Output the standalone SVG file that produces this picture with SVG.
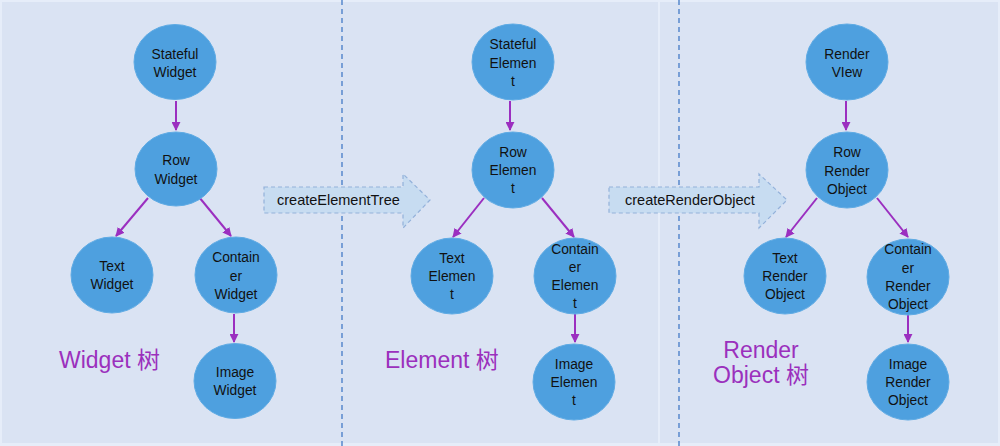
<svg xmlns="http://www.w3.org/2000/svg" width="1000" height="446" viewBox="0 0 1000 446">
<style>
.node ellipse{fill:#4ea0df;stroke:#5fabe4;stroke-width:1}
.node text{font-family:"Liberation Sans",Arial,sans-serif;font-size:13.8px;fill:#111;text-anchor:middle}
.edge{stroke:#9b2fc0;stroke-width:2;fill:none;marker-end:url(#ah)}
.title{font-family:"Liberation Sans","Noto Sans CJK SC",sans-serif;font-size:23px;fill:#9b30bd}
.op{fill:#c7dcf1;stroke:#93b1da;stroke-width:1.2;stroke-dasharray:4,3}
.optext{font-family:"Liberation Sans",Arial,sans-serif;font-size:14.5px;fill:#111}
.div{stroke:#4f82c9;stroke-width:1.4;stroke-dasharray:5,4}
</style>
<defs>
<marker id="ah" viewBox="0 0 10 10" refX="9" refY="5" markerWidth="4.5" markerHeight="4.5" orient="auto" markerUnits="strokeWidth">
<path d="M0,0 L10,5 L0,10 z" fill="#9b2fc0"/>
</marker>
</defs>
<rect x="0" y="0" width="1000" height="446" fill="#e6edf9"/>
<rect x="2" y="2" width="656" height="441" fill="#dae3f3"/>
<rect x="660" y="2" width="338" height="441" fill="#dae3f3"/>
<line class="div" x1="342" y1="0" x2="342" y2="446"/>
<line class="div" x1="679" y1="0" x2="679" y2="446"/>

<g id="op-createElementTree">
<path class="op" d="M264,187 H403 V174 L430,200 L403,228 V213 H264 Z"/>
<text class="optext" x="277" y="205">createElementTree</text>
</g>
<g id="op-createRenderObject">
<path class="op" d="M609,187 H759 V174 L787,200 L759,228 V213 H609 Z"/>
<text class="optext" x="625" y="205">createRenderObject</text>
</g>

<g id="connectors">
<line class="edge" x1="176" y1="101" x2="176" y2="130"/>
<line class="edge" x1="148" y1="198" x2="116" y2="236"/>
<line class="edge" x1="199" y1="197" x2="231" y2="236"/>
<line class="edge" x1="234" y1="314" x2="234" y2="342"/>

<line class="edge" x1="510" y1="101" x2="510" y2="130"/>
<line class="edge" x1="484" y1="198" x2="453" y2="237"/>
<line class="edge" x1="542" y1="198" x2="574" y2="237"/>
<line class="edge" x1="575" y1="314" x2="575" y2="342"/>

<line class="edge" x1="846" y1="101" x2="846" y2="130"/>
<line class="edge" x1="817" y1="198" x2="786" y2="237"/>
<line class="edge" x1="877" y1="198" x2="908" y2="237"/>
<line class="edge" x1="908" y1="314" x2="908" y2="342"/>
</g>

<g id="stateful-widget" class="node"><ellipse cx="175" cy="62" rx="41" ry="37.5"/><text x="175" y="59">Stateful</text><text x="175" y="77">Widget</text></g>
<g id="row-widget" class="node"><ellipse cx="176" cy="169" rx="41" ry="37"/><text x="176" y="165">Row</text><text x="176" y="184">Widget</text></g>
<g id="text-widget" class="node"><ellipse cx="112" cy="275" rx="41" ry="38"/><text x="112" y="271">Text</text><text x="112" y="289">Widget</text></g>
<g id="container-widget" class="node"><ellipse cx="236" cy="275" rx="41" ry="38"/><text x="236" y="262">Contain</text><text x="236" y="281">er</text><text x="236" y="299">Widget</text></g>
<g id="image-widget" class="node"><ellipse cx="235" cy="381" rx="41" ry="37.5"/><text x="235" y="377">Image</text><text x="235" y="395">Widget</text></g>
<text class="title" x="59" y="368">Widget 树</text>

<g id="stateful-element" class="node"><ellipse cx="513" cy="62" rx="41" ry="38"/><text x="513" y="49">Stateful</text><text x="513" y="68">Elemen</text><text x="513" y="86">t</text></g>
<g id="row-element" class="node"><ellipse cx="513" cy="170" rx="41" ry="38"/><text x="513" y="157">Row</text><text x="513" y="175">Elemen</text><text x="513" y="193">t</text></g>
<g id="text-element" class="node"><ellipse cx="452" cy="276" rx="41" ry="38"/><text x="452" y="263">Text</text><text x="452" y="281">Elemen</text><text x="452" y="299">t</text></g>
<g id="container-element" class="node"><ellipse cx="575" cy="276" rx="41" ry="38"/><text x="575" y="254">Contain</text><text x="575" y="272">er</text><text x="575" y="290">Elemen</text><text x="575" y="308">t</text></g>
<g id="image-element" class="node"><ellipse cx="574" cy="382" rx="41" ry="38"/><text x="574" y="369">Image</text><text x="574" y="387">Elemen</text><text x="574" y="405">t</text></g>
<text class="title" x="385" y="368">Element 树</text>

<g id="render-view" class="node"><ellipse cx="847" cy="62" rx="41" ry="38"/><text x="847" y="59">Render</text><text x="847" y="77">VIew</text></g>
<g id="row-render-object" class="node"><ellipse cx="847" cy="170" rx="41" ry="38"/><text x="847" y="157">Row</text><text x="847" y="176">Render</text><text x="847" y="194">Object</text></g>
<g id="text-render-object" class="node"><ellipse cx="785" cy="276" rx="41" ry="38"/><text x="785" y="263">Text</text><text x="785" y="281">Render</text><text x="785" y="299">Object</text></g>
<g id="container-render-object" class="node"><ellipse cx="908" cy="277" rx="41" ry="38"/><text x="908" y="254">Contain</text><text x="908" y="273">er</text><text x="908" y="291">Render</text><text x="908" y="309">Object</text></g>
<g id="image-render-object" class="node"><ellipse cx="908" cy="382" rx="41" ry="38"/><text x="908" y="369">Image</text><text x="908" y="387">Render</text><text x="908" y="405">Object</text></g>
<text class="title" x="761" y="358" text-anchor="middle">Render</text>
<text class="title" x="761" y="383" text-anchor="middle">Object 树</text>
</svg>
